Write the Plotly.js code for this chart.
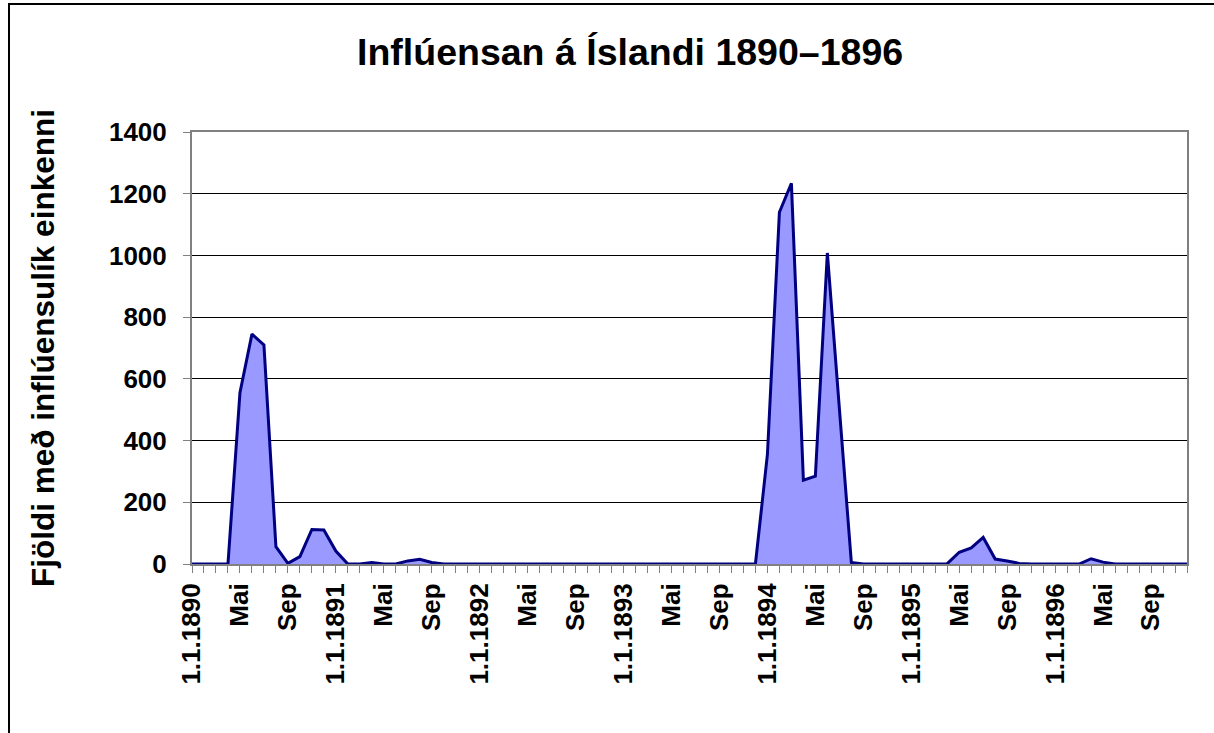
<!DOCTYPE html>
<html>
<head>
<meta charset="utf-8">
<script src="https://cdn.plot.ly/plotly-3.0.1.min.js"></script>
<style>
  html, body { margin: 0; padding: 0; background: #fff; }
  #wrap { position: relative; width: 1214px; height: 733px; overflow: hidden; }
  #chart { position: absolute; left: 0; top: 0; width: 1214px; height: 733px; }
  #frame { position: absolute; left: 8px; top: 3px; width: 1210px; height: 760px;
           border-left: 2px solid #000; border-top: 2px solid #000; pointer-events: none; }
</style>
</head>
<body>
<div id="wrap">
  <div id="chart"></div>
  <div id="frame"></div>
</div>
<script>
// Monthly counts, Jan 1890 .. Dec 1896
const values1890 = [0, 0, 0, 0, 555, 745, 710, 56, 2, 24, 112, 110];
const values1891 = [42, 0, 0, 5, 0, 0, 10, 15, 5, 0, 0, 0];
const values1892 = [0, 0, 0, 0, 0, 0, 0, 0, 0, 0, 0, 0];
const values1893 = [0, 0, 0, 0, 0, 0, 0, 0, 0, 0, 0, 0];
const values1894 = [355, 1140, 1234, 272, 285, 1008, 505, 5, 0, 0, 0, 0];
const values1895 = [0, 0, 0, 1, 38, 52, 86, 16, 10, 2, 0, 0];
const values1896 = [2, 1, 0, 17, 6, 0, 0, 0, 0, 0, 0, 0];

const years = [1890, 1891, 1892, 1893, 1894, 1895, 1896];
const monthNames = ["Jan", "Feb", "Mar", "Apr", "Mai", "Jún", "Júl", "Ágú", "Sep", "Okt", "Nóv", "Des"];
// labels shown every fourth month
const tickLabels = [
  "1.1.1890", "Mai", "Sep",
  "1.1.1891", "Mai", "Sep",
  "1.1.1892", "Mai", "Sep",
  "1.1.1893", "Mai", "Sep",
  "1.1.1894", "Mai", "Sep",
  "1.1.1895", "Mai", "Sep",
  "1.1.1896", "Mai", "Sep"
];

const allValues = [].concat(values1890, values1891, values1892, values1893, values1894, values1895, values1896);
const xIdx = allValues.map((_, i) => i);
const hoverNames = [];
years.forEach(y => monthNames.forEach(m => hoverNames.push(m + " " + y)));

const tickvals = xIdx;
const ticktext = xIdx.map(i => (i % 4 === 0 ? tickLabels[i / 4] : ""));

const FONT = "Liberation Sans, Arial, Helvetica, sans-serif";

const trace = {
  x: xIdx,
  y: allValues,
  text: hoverNames,
  type: "scatter",
  mode: "lines",
  fill: "tozeroy",
  fillcolor: "#9999FF",
  line: { color: "#000080", width: 3, shape: "linear" },
  hovertemplate: "%{text}: %{y}<extra></extra>"
};

const layout = {
  width: 1214,
  height: 733,
  paper_bgcolor: "rgba(0,0,0,0)",
  plot_bgcolor: "#fff",
  margin: { l: 192, r: 27, t: 132, b: 169 },
  showlegend: false,
  title: {
    text: "<b>Inflúensan á Íslandi 1890–1896</b>",
    font: { family: FONT, size: 37.5, color: "#000" },
    xref: "container", x: 0.519, xanchor: "center",
    yref: "container", y: 0.929, yanchor: "middle"
  },
  xaxis: {
    type: "linear",
    range: [0, xIdx.length - 1],
    tickmode: "array",
    tickvals: tickvals,
    ticktext: ticktext,
    tickangle: -90,
    ticks: "outside",
    ticklen: 7,
    tickcolor: "#808080",
    tickwidth: 1,
    tickfont: { family: FONT, size: 26, color: "#000", weight: "bold" },
    showgrid: false,
    zeroline: false,
    showline: true,
    linecolor: "#808080",
    linewidth: 2,
    mirror: true,
    fixedrange: true
  },
  yaxis: {
    range: [0, 1400],
    dtick: 200,
    tick0: 0,
    ticks: "outside",
    ticklen: 7,
    tickcolor: "#808080",
    tickwidth: 1,
    ticklabelstandoff: 11,
    tickfont: { family: FONT, size: 26, color: "#000", weight: "bold" },
    showgrid: true,
    gridcolor: "#000",
    gridwidth: 1,
    zeroline: false,
    showline: true,
    linecolor: "#808080",
    linewidth: 2,
    mirror: true,
    title: {
      text: "<b>Fjöldi með inflúensulík einkenni</b>",
      font: { family: FONT, size: 31.5, color: "#000" },
      standoff: 45
    },
    automargin: false,
    fixedrange: true
  }
};

Plotly.newPlot("chart", [trace], layout, { displayModeBar: false, staticPlot: true });
</script>
</body>
</html>
